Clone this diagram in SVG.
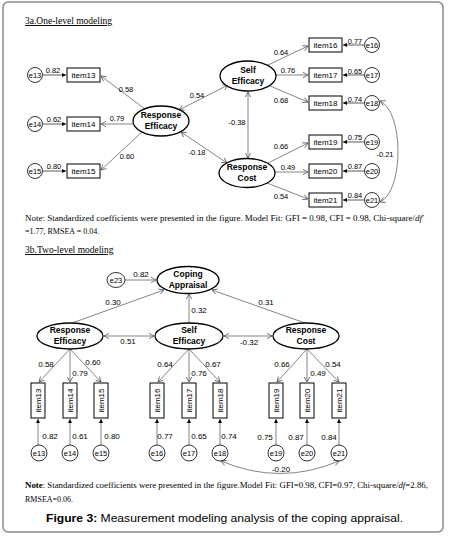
<svg xmlns="http://www.w3.org/2000/svg" width="451" height="537" viewBox="0 0 451 537">
<style>
.frame{fill:#fff;stroke:#8a8a8a;stroke-width:1.5}
.lat{fill:#fff;stroke:#000;stroke-width:1.3}
.box{fill:#fff;stroke:#000;stroke-width:1}
.err{fill:#fff;stroke:#000;stroke-width:0.8}
.ln{fill:none;stroke:#666;stroke-width:0.8}
.eln{fill:none;stroke:#999;stroke-width:1.6}
.lt{font-family:"Liberation Sans",Arial,sans-serif;font-weight:bold;font-size:8.5px;text-anchor:middle;fill:#000}
.it{font-family:"Liberation Sans",Arial,sans-serif;font-size:8px;text-anchor:middle;fill:#000}
.et{font-family:"Liberation Sans",Arial,sans-serif;font-size:7.5px;text-anchor:middle;fill:#000}
.nm{font-family:"Liberation Sans",Arial,sans-serif;font-size:7.5px;text-anchor:middle;fill:#000}
.nm2{font-family:"Liberation Sans",Arial,sans-serif;font-size:8px;text-anchor:middle;fill:#000}
.ser{font-family:"Liberation Serif","Times New Roman",serif;font-size:8px;fill:#000}
.ttl{font-family:"Liberation Serif","Times New Roman",serif;font-size:9.5px;fill:#000;text-decoration:underline}
.cap{font-family:"Liberation Sans",Arial,sans-serif;font-size:11.5px;fill:#000}
</style>
<defs>
<marker id="a" markerUnits="userSpaceOnUse" markerWidth="7" markerHeight="7" refX="6" refY="3.5" orient="auto-start-reverse">
<path d="M1,0.8 L6,3.5 L1,6.2" fill="none" stroke="#555" stroke-width="0.8"/>
</marker>
<marker id="f" markerUnits="userSpaceOnUse" markerWidth="5" markerHeight="5" refX="4" refY="2.5" orient="auto">
<path d="M0,0.5 L4,2.5 L0,4.5 Z" fill="#000"/>
</marker>
</defs>
<rect class="frame" x="3" y="2" width="440" height="530" rx="5"/>

<text class="ttl" x="25" y="24">3a.One-level modeling</text>

<g id="connectors-3a">
<line class="ln" x1="145" y1="109" x2="101" y2="76" marker-end="url(#a)"/>
<line class="ln" x1="133" y1="124" x2="101" y2="124" marker-end="url(#a)"/>
<line class="ln" x1="142" y1="132" x2="101" y2="170" marker-end="url(#a)"/>
<line class="ln" x1="268" y1="65" x2="308" y2="46" marker-end="url(#a)"/>
<line class="ln" x1="276" y1="75" x2="308" y2="75" marker-end="url(#a)"/>
<line class="ln" x1="270" y1="86" x2="308" y2="102" marker-end="url(#a)"/>
<line class="ln" x1="268" y1="163" x2="308" y2="143" marker-end="url(#a)"/>
<line class="ln" x1="275" y1="172" x2="308" y2="172" marker-end="url(#a)"/>
<line class="ln" x1="267" y1="183" x2="308" y2="199" marker-end="url(#a)"/>
<line class="ln" x1="179" y1="110" x2="228" y2="85" marker-start="url(#a)" marker-end="url(#a)"/>
<line class="ln" x1="181" y1="132" x2="227" y2="163" marker-start="url(#a)" marker-end="url(#a)"/>
<line class="ln" x1="248" y1="92" x2="248" y2="158" marker-start="url(#a)" marker-end="url(#a)"/>
<line class="eln" x1="43" y1="75" x2="66" y2="75" marker-end="url(#f)"/>
<line class="eln" x1="43" y1="124" x2="66" y2="124" marker-end="url(#f)"/>
<line class="eln" x1="43" y1="171" x2="66" y2="171" marker-end="url(#f)"/>
<line class="eln" x1="364" y1="45" x2="343" y2="45" marker-end="url(#f)"/>
<line class="eln" x1="364" y1="75" x2="343" y2="75" marker-end="url(#f)"/>
<line class="eln" x1="364" y1="103" x2="343" y2="103" marker-end="url(#f)"/>
<line class="eln" x1="364" y1="142" x2="343" y2="142" marker-end="url(#f)"/>
<line class="eln" x1="364" y1="171" x2="343" y2="171" marker-end="url(#f)"/>
<line class="eln" x1="364" y1="200" x2="343" y2="200" marker-end="url(#f)"/>
<path class="ln" d="M380,101 C404,112 404,191 380,202" marker-start="url(#a)" marker-end="url(#a)"/>
</g>

<g id="labels-3a">
<text class="nm" x="53" y="73">0.82</text>
<text class="nm" x="54" y="122">0.62</text>
<text class="nm" x="54" y="169">0.80</text>
<text class="nm" x="126" y="92">0.58</text>
<text class="nm" x="117" y="121">0.79</text>
<text class="nm" x="127" y="159">0.60</text>
<text class="nm" x="197" y="98">0.54</text>
<text class="nm" x="237" y="125">-0.38</text>
<text class="nm" x="197" y="155">-0.18</text>
<text class="nm" x="281" y="55">0.64</text>
<text class="nm" x="288" y="73">0.76</text>
<text class="nm" x="281" y="103">0.68</text>
<text class="nm" x="281" y="149">0.66</text>
<text class="nm" x="288" y="170">0.49</text>
<text class="nm" x="281" y="199">0.54</text>
<text class="nm" x="355" y="44">0.77</text>
<text class="nm" x="355" y="74">0.65</text>
<text class="nm" x="355" y="102">0.74</text>
<text class="nm" x="355" y="140">0.75</text>
<text class="nm" x="355" y="169">0.87</text>
<text class="nm" x="355" y="198">0.84</text>
<text class="nm" x="385" y="157">-0.21</text>
</g>

<g id="SE1"><ellipse class="lat" cx="248" cy="76" rx="28" ry="15"/><text class="lt" x="248" y="73">Self</text><text class="lt" x="248" y="84">Efficacy</text></g>
<g id="RE1"><ellipse class="lat" cx="161" cy="121" rx="28" ry="15"/><text class="lt" x="161" y="118">Response</text><text class="lt" x="161" y="129">Efficacy</text></g>
<g id="RC1"><ellipse class="lat" cx="247" cy="173" rx="28" ry="14.5"/><text class="lt" x="247" y="170">Response</text><text class="lt" x="247" y="181">Cost</text></g>

<g id="item13a"><rect class="box" x="67" y="68" width="33" height="14"/><text class="it" x="83.5" y="78">item13</text></g>
<g id="item14a"><rect class="box" x="67" y="117" width="33" height="14"/><text class="it" x="83.5" y="127">item14</text></g>
<g id="item15a"><rect class="box" x="67" y="164" width="33" height="14"/><text class="it" x="83.5" y="174">item15</text></g>
<g id="item16a"><rect class="box" x="309" y="38" width="33" height="14"/><text class="it" x="325.5" y="48">item16</text></g>
<g id="item17a"><rect class="box" x="309" y="68" width="33" height="14"/><text class="it" x="325.5" y="78">item17</text></g>
<g id="item18a"><rect class="box" x="309" y="96" width="33" height="14"/><text class="it" x="325.5" y="106">item18</text></g>
<g id="item19a"><rect class="box" x="309" y="135" width="33" height="14"/><text class="it" x="325.5" y="145">item19</text></g>
<g id="item20a"><rect class="box" x="309" y="164" width="33" height="14"/><text class="it" x="325.5" y="174">item20</text></g>
<g id="item21a"><rect class="box" x="309" y="193" width="33" height="14"/><text class="it" x="325.5" y="203">item21</text></g>

<g id="e13a"><circle class="err" cx="35" cy="75" r="7.5"/><text class="et" x="35" y="78">e13</text></g>
<g id="e14a"><circle class="err" cx="35" cy="124" r="7.5"/><text class="et" x="35" y="127">e14</text></g>
<g id="e15a"><circle class="err" cx="35" cy="171" r="7.5"/><text class="et" x="35" y="174">e15</text></g>
<g id="e16a"><circle class="err" cx="372" cy="45" r="7.5"/><text class="et" x="372" y="48">e16</text></g>
<g id="e17a"><circle class="err" cx="372" cy="75" r="7.5"/><text class="et" x="372" y="78">e17</text></g>
<g id="e18a"><circle class="err" cx="372" cy="103" r="7.5"/><text class="et" x="372" y="106">e18</text></g>
<g id="e19a"><circle class="err" cx="372" cy="142" r="7.5"/><text class="et" x="372" y="145">e19</text></g>
<g id="e20a"><circle class="err" cx="372" cy="171" r="7.5"/><text class="et" x="372" y="174">e20</text></g>
<g id="e21a"><circle class="err" cx="372" cy="200" r="7.5"/><text class="et" x="372" y="203">e21</text></g>

<text class="ser" x="25" y="221" textLength="399" lengthAdjust="spacingAndGlyphs">Note: Standardized coefficients were presented in the figure.  Model Fit: GFI = 0.98, CFI = 0.98, Chi-square/<tspan font-style="italic">df</tspan>′</text>
<text class="ser" x="25" y="234">=1.77, RMSEA = 0.04.</text>

<text class="ttl" x="25" y="253">3b.Two-level modeling</text>

<g id="connectors-3b">
<line class="ln" x1="125" y1="280" x2="156" y2="280" marker-end="url(#a)"/>
<line class="ln" x1="72" y1="323" x2="164" y2="290" marker-end="url(#a)"/>
<line class="ln" x1="189" y1="323" x2="189" y2="294" marker-end="url(#a)"/>
<line class="ln" x1="305" y1="323" x2="212" y2="290" marker-end="url(#a)"/>
<line class="ln" x1="104" y1="336" x2="154" y2="336" marker-start="url(#a)" marker-end="url(#a)"/>
<line class="ln" x1="224" y1="336" x2="272" y2="336" marker-start="url(#a)" marker-end="url(#a)"/>
<line class="ln" x1="70" y1="349" x2="39" y2="382" marker-end="url(#a)"/>
<line class="ln" x1="70" y1="349" x2="70" y2="382" marker-end="url(#a)"/>
<line class="ln" x1="70" y1="349" x2="101" y2="382" marker-end="url(#a)"/>
<line class="ln" x1="189" y1="349" x2="158" y2="382" marker-end="url(#a)"/>
<line class="ln" x1="189" y1="349" x2="189" y2="382" marker-end="url(#a)"/>
<line class="ln" x1="189" y1="349" x2="220" y2="382" marker-end="url(#a)"/>
<line class="ln" x1="307" y1="349" x2="277" y2="382" marker-end="url(#a)"/>
<line class="ln" x1="307" y1="349" x2="307" y2="382" marker-end="url(#a)"/>
<line class="ln" x1="307" y1="349" x2="339" y2="382" marker-end="url(#a)"/>
<line class="ln" x1="38" y1="445" x2="38" y2="419" marker-end="url(#f)"/>
<line class="ln" x1="70" y1="445" x2="70" y2="419" marker-end="url(#f)"/>
<line class="ln" x1="101" y1="445" x2="101" y2="419" marker-end="url(#f)"/>
<line class="ln" x1="157" y1="445" x2="157" y2="419" marker-end="url(#f)"/>
<line class="ln" x1="189" y1="445" x2="189" y2="419" marker-end="url(#f)"/>
<line class="ln" x1="220" y1="445" x2="220" y2="419" marker-end="url(#f)"/>
<line class="ln" x1="276" y1="445" x2="276" y2="419" marker-end="url(#f)"/>
<line class="ln" x1="307" y1="445" x2="307" y2="419" marker-end="url(#f)"/>
<line class="ln" x1="339" y1="445" x2="339" y2="419" marker-end="url(#f)"/>
<path class="ln" d="M221,461 Q280,486 339,461" marker-start="url(#a)" marker-end="url(#a)"/>
</g>

<g id="labels-3b">
<text class="nm2" x="141" y="277">0.82</text>
<text class="nm2" x="113" y="305">0.30</text>
<text class="nm2" x="266" y="305">0.31</text>
<text class="nm2" x="199" y="313">0.32</text>
<text class="nm2" x="128" y="344">0.51</text>
<text class="nm2" x="249" y="345">-0.32</text>
<text class="nm2" x="46" y="367">0.58</text>
<text class="nm2" x="80" y="376">0.79</text>
<text class="nm2" x="93" y="365">0.60</text>
<text class="nm2" x="165" y="367">0.64</text>
<text class="nm2" x="199" y="376">0.76</text>
<text class="nm2" x="213" y="367">0.67</text>
<text class="nm2" x="282" y="367">0.66</text>
<text class="nm2" x="318" y="376">0.49</text>
<text class="nm2" x="333" y="367">0.54</text>
<text class="nm2" x="50" y="439">0.82</text>
<text class="nm2" x="80" y="439">0.61</text>
<text class="nm2" x="112" y="439">0.80</text>
<text class="nm2" x="165" y="439">0.77</text>
<text class="nm2" x="199" y="439">0.65</text>
<text class="nm2" x="229" y="439">0.74</text>
<text class="nm2" x="265" y="440">0.75</text>
<text class="nm2" x="296" y="440">0.87</text>
<text class="nm2" x="329" y="440">0.84</text>
<text class="nm2" x="281" y="472">-0.20</text>
</g>

<g id="CA"><ellipse class="lat" cx="188" cy="280" rx="31" ry="13.5"/><text class="lt" x="188" y="277" font-size="9">Coping</text><text class="lt" x="188" y="288" font-size="9">Appraisal</text></g>
<g id="e23"><ellipse class="err" cx="116" cy="280" rx="9" ry="7.5"/><text class="et" x="116" y="283">e23</text></g>
<g id="RE2"><ellipse class="lat" cx="70" cy="336" rx="33" ry="13"/><text class="lt" x="70" y="333" font-size="9">Response</text><text class="lt" x="70" y="344" font-size="9">Efficacy</text></g>
<g id="SE2"><ellipse class="lat" cx="189" cy="336" rx="34" ry="13"/><text class="lt" x="189" y="333" font-size="9">Self</text><text class="lt" x="189" y="344" font-size="9">Efficacy</text></g>
<g id="RC2"><ellipse class="lat" cx="306" cy="336" rx="33" ry="13"/><text class="lt" x="306" y="333" font-size="9">Response</text><text class="lt" x="306" y="344" font-size="9">Cost</text></g>

<g id="item13b"><rect class="box" x="31" y="383" width="14" height="35"/><text class="it" transform="translate(41,400.5) rotate(-90)">item13</text></g>
<g id="item14b"><rect class="box" x="63" y="383" width="14" height="35"/><text class="it" transform="translate(73,400.5) rotate(-90)">item14</text></g>
<g id="item15b"><rect class="box" x="94" y="383" width="14" height="35"/><text class="it" transform="translate(104,400.5) rotate(-90)">item15</text></g>
<g id="item16b"><rect class="box" x="150" y="383" width="14" height="35"/><text class="it" transform="translate(160,400.5) rotate(-90)">item16</text></g>
<g id="item17b"><rect class="box" x="182" y="383" width="14" height="35"/><text class="it" transform="translate(192,400.5) rotate(-90)">item17</text></g>
<g id="item18b"><rect class="box" x="213" y="383" width="14" height="35"/><text class="it" transform="translate(223,400.5) rotate(-90)">item18</text></g>
<g id="item19b"><rect class="box" x="269" y="383" width="14" height="35"/><text class="it" transform="translate(279,400.5) rotate(-90)">item19</text></g>
<g id="item20b"><rect class="box" x="300" y="383" width="14" height="35"/><text class="it" transform="translate(310,400.5) rotate(-90)">item20</text></g>
<g id="item21b"><rect class="box" x="332" y="383" width="14" height="35"/><text class="it" transform="translate(342,400.5) rotate(-90)">item21</text></g>

<g id="e13b"><circle class="err" cx="39" cy="453" r="8"/><text class="et" x="39" y="456">e13</text></g>
<g id="e14b"><circle class="err" cx="70" cy="453" r="8"/><text class="et" x="70" y="456">e14</text></g>
<g id="e15b"><circle class="err" cx="101" cy="453" r="8"/><text class="et" x="101" y="456">e15</text></g>
<g id="e16b"><circle class="err" cx="157" cy="453" r="8"/><text class="et" x="157" y="456">e16</text></g>
<g id="e17b"><circle class="err" cx="189" cy="453" r="8"/><text class="et" x="189" y="456">e17</text></g>
<g id="e18b"><circle class="err" cx="220" cy="453" r="8"/><text class="et" x="220" y="456">e18</text></g>
<g id="e19b"><circle class="err" cx="276" cy="453" r="8"/><text class="et" x="276" y="456">e19</text></g>
<g id="e20b"><circle class="err" cx="307" cy="453" r="8"/><text class="et" x="307" y="456">e20</text></g>
<g id="e21b"><circle class="err" cx="339" cy="453" r="8"/><text class="et" x="339" y="456">e21</text></g>

<text class="ser" x="25" y="488" textLength="403" lengthAdjust="spacingAndGlyphs"><tspan font-weight="bold">Note</tspan>: Standardized coefficients were presented in the figure.Model Fit: GFI=0.98, CFI=0.97, Chi-square/<tspan font-style="italic">df</tspan>=2.86,</text>
<text class="ser" x="25" y="502">RMSEA=0.06.</text>

<text class="cap" x="46" y="522" textLength="357" lengthAdjust="spacingAndGlyphs"><tspan font-weight="bold">Figure 3:</tspan> Measurement modeling analysis of the coping appraisal.</text>
</svg>
